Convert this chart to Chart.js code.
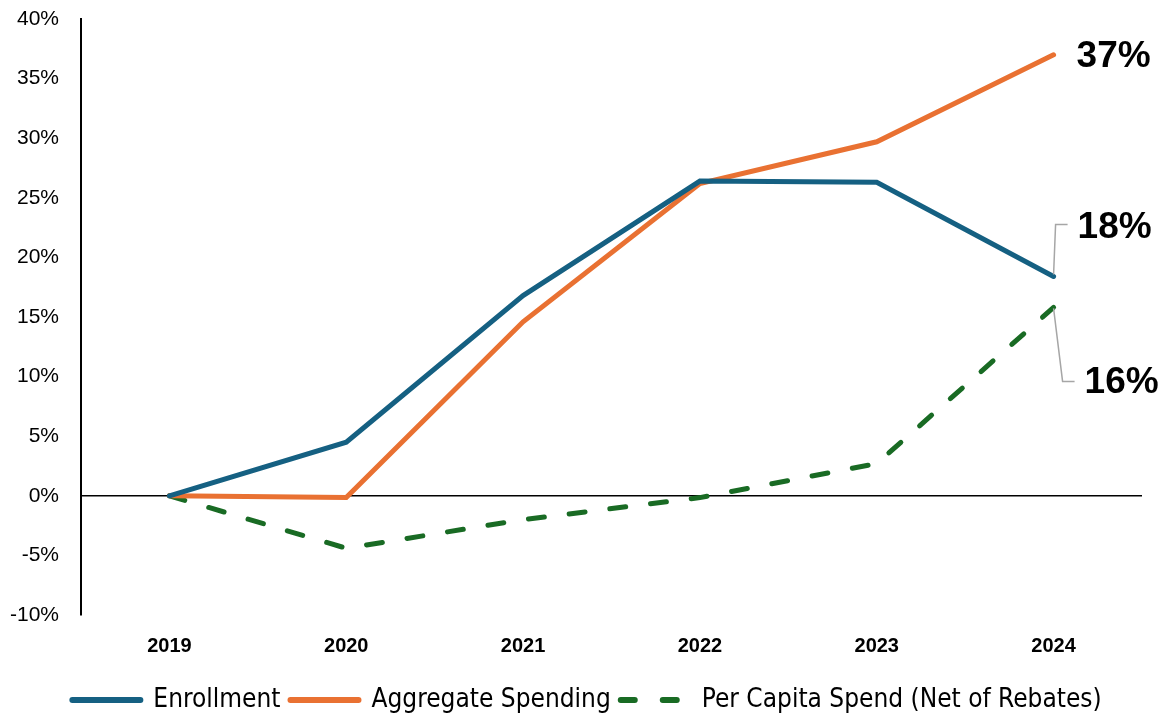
<!DOCTYPE html>
<html>
<head>
<meta charset="utf-8">
<script src="https://cdn.jsdelivr.net/npm/chart.js@4"></script>
<style>
  html, body { margin: 0; padding: 0; background: #fff; }
  #wrap { width: 1160px; height: 716px; position: relative; }
</style>
</head>
<body>
<div id="wrap"><canvas id="growth_chart"></canvas></div>
<script>
// years on the x axis
var years = ['2019', '2020', '2021', '2022', '2023', '2024'];

// cumulative change since 2019, in fractions
var enrollment = [0, 0.045, 0.168, 0.264, 0.263, 0.184];
var aggregateSpending = [0, -0.0015, 0.146, 0.262, 0.297, 0.370];
var perCapitaSpend = [0, -0.044, -0.020, -0.0015, 0.027, 0.158];

var yTicks = [-0.10, -0.05, 0, 0.05, 0.10, 0.15, 0.20, 0.25, 0.30, 0.35, 0.40];

var blue = '#156082';
var orange = '#E97132';
var green = '#196B24';

// end-of-line callouts: 37%, 18% (with leader), 16% (with leader)
var endLabels = {
  id: 'endLabels',
  afterDatasetsDraw: function(chart) {
    var ctx = chart.ctx;
    var xs = chart.scales.x, ys = chart.scales.y;
    var last = years.length - 1;
    var x = xs.getPixelForValue(last);
    var yA = ys.getPixelForValue(aggregateSpending[last]);
    var yE = ys.getPixelForValue(enrollment[last]);
    var yP = ys.getPixelForValue(perCapitaSpend[last]);
    var pct = function(v) { return Math.round(v * 100) + '%'; };

    ctx.save();
    ctx.strokeStyle = '#a6a6a6';
    ctx.lineWidth = 1.5;
    ctx.beginPath();
    ctx.moveTo(x, yE - 2);
    ctx.lineTo(x + 2, yE - 52);
    ctx.lineTo(x + 14, yE - 52);
    ctx.stroke();
    ctx.beginPath();
    ctx.moveTo(x, yP + 1);
    ctx.lineTo(x + 9, yP + 74);
    ctx.lineTo(x + 21, yP + 74);
    ctx.stroke();

    ctx.fillStyle = '#000';
    ctx.font = 'bold 37px "Liberation Sans", Arial, sans-serif';
    ctx.textBaseline = 'middle';
    ctx.textAlign = 'left';
    ctx.fillText(pct(aggregateSpending[last]), x + 23, yA + 2);
    ctx.fillText(pct(enrollment[last]), x + 24, yE - 49);
    ctx.fillText(pct(perCapitaSpend[last]), x + 31, yP + 75);
    ctx.restore();
  }
};

// the legend sits a little right of the canvas centre in the original
var legendShift = {
  id: 'legendShift',
  afterLayout: function(chart) {
    chart.legend.left += 11;
    chart.legend.right += 11;
  }
};

var growth_chart;

document.addEventListener("DOMContentLoaded", function(event){
    growth_chart = new Chart(
      document.getElementById('growth_chart'), {
        type: 'line',
        data: {
          labels: years,
          datasets: [{
            label: 'Enrollment',
            data: enrollment,
            borderColor: blue,
            backgroundColor: blue,
            borderWidth: 5,
            borderCapStyle: 'round',
            pointRadius: 0,
            tension: 0
          }, {
            label: 'Aggregate Spending',
            data: aggregateSpending,
            borderColor: orange,
            backgroundColor: orange,
            borderWidth: 5,
            borderCapStyle: 'round',
            pointRadius: 0,
            tension: 0
          }, {
            label: 'Per Capita Spend (Net of Rebates)',
            data: perCapitaSpend,
            borderColor: green,
            backgroundColor: green,
            borderWidth: 5,
            borderDash: [16, 25],
            borderCapStyle: 'round',
            pointRadius: 0,
            tension: 0
          }]
        },
        options: {
          responsive: true,
          maintainAspectRatio: false,
          animation: false,
          layout: { padding: { left: 10, right: 18, top: 19, bottom: -7 } },
          plugins: {
            tooltip: { enabled: false },
            legend: {
              position: 'bottom',
              labels: {
                usePointStyle: true,
                pointStyle: 'line',
                pointStyleWidth: 68,
                boxHeight: 6,
                padding: 10,
                color: '#000',
                font: { family: '"DejaVu Sans Condensed", sans-serif', size: 26 },
                generateLabels: function(chart) {
                  var items = Chart.defaults.plugins.legend.labels.generateLabels(chart);
                  items.forEach(function(it) {
                    var ds = chart.data.datasets[it.datasetIndex];
                    it.lineWidth = 6;
                    it.lineCap = 'round';
                    it.lineDash = ds.borderDash ? [14, 28] : [];
                    it.strokeStyle = ds.borderColor;
                    it.fillStyle = ds.borderColor;
                  });
                  return items;
                }
              }
            }
          },
          scales: {
            x: {
              offset: true,
              grid: { display: false, drawTicks: false },
              border: { display: false },
              ticks: {
                padding: 17,
                color: '#000',
                font: { family: '"Liberation Sans", Arial, sans-serif', size: 20, weight: 'bold', lineHeight: 1.4 }
              }
            },
            y: {
              min: -0.10,
              max: 0.40,
              afterBuildTicks: function(axis) {
                axis.ticks = yTicks.map(function(v) { return { value: v }; });
              },
              afterFit: function(axis) {
                axis.width = 71;
                axis.paddingTop = 0;
                axis.paddingBottom = 0;
              },
              grid: {
                drawTicks: false,
                color: function(c) { return c.tick && Math.abs(c.tick.value) < 1e-9 ? '#000' : 'rgba(0,0,0,0)'; },
                lineWidth: 1.5
              },
              border: { display: true, color: '#000', width: 2 },
              ticks: {
                padding: 22,
                color: '#000',
                font: { family: '"Liberation Sans", Arial, sans-serif', size: 21 },
                callback: function(v) { return Math.round(v * 100) + '%'; }
              }
            }
          }
        },
        plugins: [endLabels, legendShift]
      }
    );
});
</script>
</body>
</html>
